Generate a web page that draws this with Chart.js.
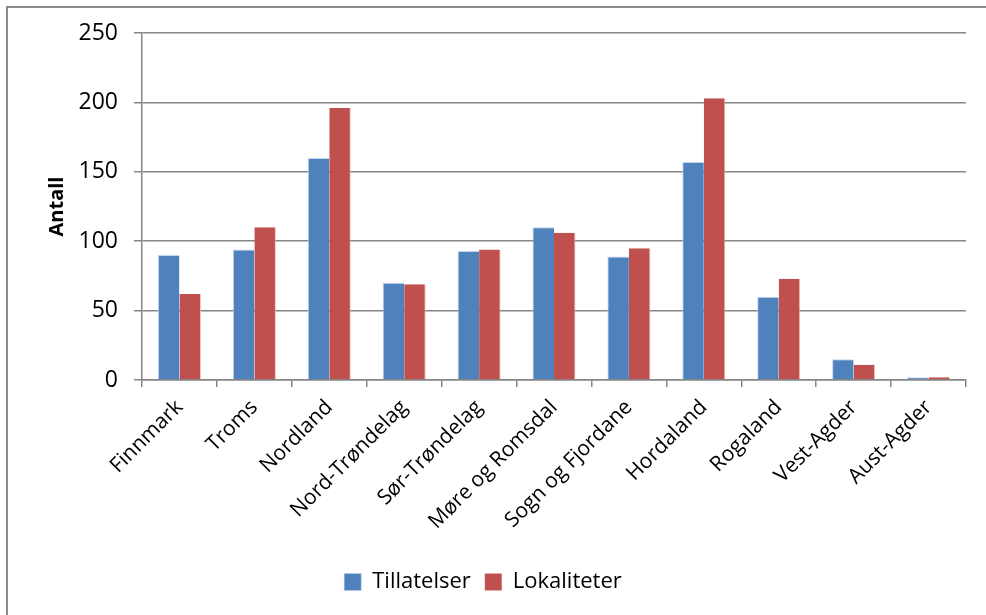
<!DOCTYPE html>
<html>
<head>
<meta charset="utf-8">
<script src="https://cdn.jsdelivr.net/npm/chart.js@4/dist/chart.umd.min.js"></script>
<style>
html,body{margin:0;padding:0;background:#fff;}
#wrap{width:986px;height:615px;position:relative;}
</style>
</head>
<body>
<div id="wrap"><canvas id="c" width="986" height="615"></canvas></div>
<script>
const categories = ["Finnmark","Troms","Nordland","Nord-Trøndelag","Sør-Trøndelag","Møre og Romsdal","Sogn og Fjordane","Hordaland","Rogaland","Vest-Agder","Aust-Agder"];
const tillatelser = [90, 94, 160, 70, 93, 110, 89, 157, 60, 15, 2];
const lokaliteter = [62, 110, 196, 69, 94, 106, 95, 203, 73, 11, 2];
const yTicks = [0, 50, 100, 150, 200, 250];
const seriesNames = ["Tillatelser", "Lokaliteter"];

const FONT = "'Open Sans', sans-serif";
const GRAY = "#868686";

const frame = {
  id: 'frame',
  beforeDraw(chart) {
    const ctx = chart.ctx;
    ctx.save();
    ctx.strokeStyle = "#8c8c8c";
    ctx.lineWidth = 2;
    ctx.beginPath();
    ctx.moveTo(7, 700);
    ctx.lineTo(7, 7);
    ctx.lineTo(1000, 7);
    ctx.stroke();
    ctx.restore();
  }
};

new Chart(document.getElementById('c'), {
  type: 'bar',
  data: {
    labels: categories,
    datasets: [
      { label: seriesNames[0], data: tillatelser, backgroundColor: '#4F81BD', borderColor: 'rgba(190,210,235,0.9)', borderWidth: {left:1, top:1, right:0, bottom:0}, borderSkipped: false },
      { label: seriesNames[1], data: lokaliteter, backgroundColor: '#C0504D', borderColor: 'rgba(235,190,190,0.9)', borderWidth: {left:0, top:0, right:1, bottom:0}, borderSkipped: false }
    ]
  },
  plugins: [frame],
  options: {
    responsive: false,
    animation: false,
    events: [],
    layout: { padding: { top: 33, right: 20, left: 0, bottom: 12 } },
    datasets: { bar: { categoryPercentage: 0.575, barPercentage: 1.0 } },
    plugins: {
      tooltip: { enabled: false },
      legend: {
        position: 'bottom',
        labels: {
          font: { family: FONT, size: 22 },
          color: '#000',
          boxWidth: 17,
          boxHeight: 17,
          padding: 14,
          useBorderRadius: false
        }
      }
    },
    scales: {
      x: {
        grid: { display: true, drawOnChartArea: false, drawTicks: true, tickLength: 7, color: GRAY, lineWidth: 1.5, offset: true },
        border: { display: true, color: GRAY, width: 1.5 },
        ticks: {
          font: { family: FONT, size: 21 },
          color: '#000',
          maxRotation: 45,
          minRotation: 45,
          autoSkip: false,
          padding: 8
        },
        afterFit(scale) { scale.height = 177; }
      },
      y: {
        min: 0,
        max: 250,
        afterBuildTicks(scale) { scale.ticks = yTicks.map(v => ({ value: v })); },
        grid: { color: GRAY, lineWidth: 1.5, drawTicks: true, tickLength: 8 },
        border: { display: true, color: GRAY, width: 1.5 },
        ticks: {
          font: { family: FONT, size: 23 },
          color: '#000',
          padding: 16
        },
        title: {
          display: true,
          text: 'Antall',
          font: { family: FONT, size: 20, weight: 'bold' },
          color: '#000',
          padding: { top: 45, bottom: 0 }
        },
        afterFit(scale) { scale.width = 142; }
      }
    }
  }
});
</script>
</body>
</html>
